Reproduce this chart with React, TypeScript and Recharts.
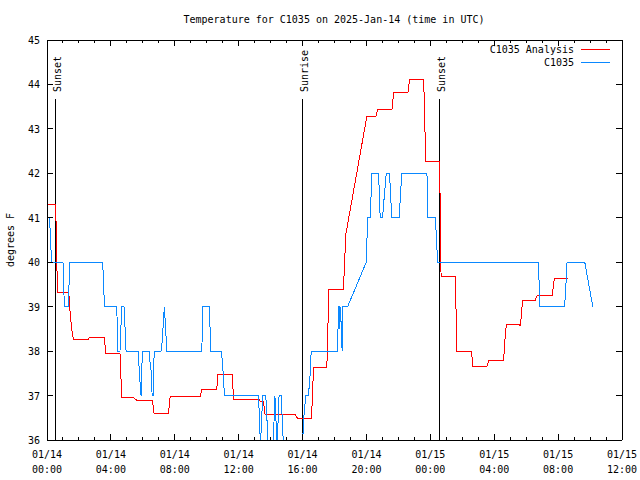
import React from "react";
import { LineChart, Line, XAxis, YAxis, ReferenceLine, Legend } from "recharts";

const FONT = "'DejaVu Sans Mono', monospace";

// hours since 2025-01-14 00:00 UTC
const analysisHours = [
  0, 0.52, 0.58, 0.65, 1.36, 1.46, 1.57, 1.65, 2.61, 2.64, 3.59, 3.68, 4.57, 4.68, 5.41, 5.6,
  6.6, 6.7, 7.6, 7.71, 9.59, 9.69, 10.63, 10.7, 11.61, 11.67, 13.3, 13.35, 13.55, 13.65, 15.54,
  15.68, 16.56, 16.69, 17.52, 17.65, 18.56, 18.63, 18.72, 20.03, 20.6, 20.7, 21.6, 21.7, 22.6,
  22.7, 23.58, 23.62, 23.68, 23.73, 24.56, 24.6, 24.64, 24.69, 25.56, 25.67, 26.57, 26.67, 27.55,
  27.65, 28.59, 28.65, 28.76, 29.53, 29.64, 29.78, 30.58, 30.68, 31.62, 31.77, 32.6
];
const analysisTemps = [
  41.31, 41.31, 40.8, 39.33, 39.33, 38.81, 38.44, 38.26, 38.26, 38.3, 38.3, 37.95, 37.95, 36.96,
  36.96, 36.9, 36.9, 36.6, 36.6, 36.97, 36.97, 37.14, 37.14, 37.48, 37.48, 36.92, 36.92, 36.87,
  36.87, 36.58, 36.58, 36.49, 36.49, 37.63, 37.63, 39.39, 39.39, 40.01, 40.65, 43.29, 43.29,
  43.44, 43.44, 43.82, 43.82, 44.11, 44.11, 43.65, 42.73, 42.26, 42.26, 41.85, 39.9, 39.67, 39.67,
  37.99, 37.99, 37.66, 37.66, 37.78, 37.78, 38.17, 38.6, 38.6, 38.57, 39.15, 39.15, 39.25, 39.25,
  39.64, 39.64
];

const stationHours = [
  0, 0.14, 0.19, 0.25, 0.31, 1.0, 1.05, 1.08, 1.33, 1.38, 1.41, 3.46, 3.53, 3.57, 3.59, 4.37, 4.4,
  4.43, 4.57, 4.68, 4.82, 4.89, 4.95, 5.72, 5.78, 5.89, 5.97, 6.39, 6.45, 6.54, 6.58, 6.64, 6.69,
  6.72, 7.14, 7.21, 7.27, 7.31, 7.35, 7.42, 7.5, 9.69, 9.73, 9.76, 10.17, 10.21, 10.26, 10.9,
  10.96, 11.03, 11.11, 13.24, 13.3, 13.36, 13.45, 13.49, 13.7, 13.78, 13.85, 14.17, 14.22, 14.27,
  14.33, 14.4, 14.48, 14.53, 14.68, 14.72, 14.8, 16.0, 16.07, 16.13, 16.2, 16.37, 16.48, 16.54,
  18.19, 18.25, 18.3, 18.33, 18.38, 18.44, 18.48, 18.53, 18.82, 19.99, 20.03, 20.09, 20.24, 20.29,
  20.34, 20.76, 20.81, 20.86, 21.01, 21.12, 21.24, 21.45, 21.51, 21.6, 22.07, 22.12, 22.22, 23.79,
  23.81, 23.83, 24.31, 24.35, 24.42, 24.45, 30.78, 30.81, 30.85, 32.41, 32.49, 32.56, 33.67,
  33.92, 34.17
];
const stationTemps = [
  41.01, 41.01, 40.76, 40.27, 40.0, 40.0, 39.5, 39.0, 39.0, 39.5, 40.0, 40.0, 39.75, 39.25, 39.0,
  39.0, 38.5, 38.0, 38.0, 39.0, 39.0, 38.5, 38.0, 38.0, 37.5, 37.0, 38.0, 38.0, 37.75, 37.5, 37.0,
  37.0, 37.75, 38.0, 38.0, 38.2, 38.55, 38.8, 39.0, 38.55, 38.0, 38.0, 38.5, 39.0, 39.0, 38.5,
  38.0, 38.0, 37.83, 37.5, 37.0, 37.0, 36.5, 35.9, 36.5, 37.0, 37.0, 36.4, 35.9, 35.9, 36.5, 37.0,
  36.5, 35.9, 36.5, 37.0, 37.0, 36.5, 35.9, 35.9, 36.5, 36.7, 37.0, 37.0, 37.5, 38.0, 38.0, 39.0,
  39.0, 38.5, 39.0, 38.3, 38.0, 39.0, 39.0, 40.0, 40.5, 41.0, 41.0, 41.5, 42.0, 42.0, 41.5, 41.0,
  41.0, 41.5, 42.0, 42.0, 41.5, 41.0, 41.0, 41.5, 42.0, 42.0, 41.5, 41.0, 41.0, 40.76, 40.27,
  40.0, 40.0, 39.5, 39.0, 39.0, 39.5, 40.0, 40.0, 39.5, 39.0
];

const hourTicks = [
  0, 1, 2, 3, 4, 5, 6, 7, 8, 9, 10, 11, 12, 13, 14, 15, 16, 17, 18, 19, 20, 21, 22, 23, 24, 25,
  26, 27, 28, 29, 30, 31, 32, 33, 34, 35, 36
];
const majorHours = [0, 4, 8, 12, 16, 20, 24, 28, 32, 36];
const majorDates = ["01/14", "01/14", "01/14", "01/14", "01/14", "01/14", "01/15", "01/15", "01/15", "01/15"];
const majorTimes = ["00:00", "04:00", "08:00", "12:00", "16:00", "20:00", "00:00", "04:00", "08:00", "12:00"];
const tempTicks = [36, 37, 38, 39, 40, 41, 42, 43, 44, 45];

const seriesNames = ["C1035 Analysis", "C1035"];

const eventNames = ["Sunset", "Sunrise", "Sunset"];
const eventHours = [0.56, 15.99, 24.58];
const eventTop = 43.67;

const toPoints = (hs: number[], vs: number[]) => hs.map((h, i) => ({ h, v: vs[i] }));
const analysisData = toPoints(analysisHours, analysisTemps);
const stationData = toPoints(stationHours, stationTemps);

const txt = { fontFamily: FONT, fontSize: 10, fill: "#000" };

function BottomTick({ x, y, payload }: any) {
  const i = majorHours.indexOf(payload.value);
  return (
    <g>
      <line x1={x} x2={x} y1={y} y2={y - (i >= 0 ? 6 : 3)} stroke="#000" shapeRendering="crispEdges" />
      {i >= 0 && (
        <text x={x} y={y + 18} textAnchor="middle" {...txt}>
          {majorDates[i]}
        </text>
      )}
      {i >= 0 && (
        <text x={x} y={y + 33} textAnchor="middle" {...txt}>
          {majorTimes[i]}
        </text>
      )}
    </g>
  );
}

function TopTick({ x, y, payload }: any) {
  const major = majorHours.includes(payload.value);
  return <line x1={x} x2={x} y1={y} y2={y + (major ? 6 : 3)} stroke="#000" shapeRendering="crispEdges" />;
}

function LeftTick({ x, y, payload }: any) {
  return (
    <g>
      <line x1={x} x2={x + 6} y1={y} y2={y} stroke="#000" shapeRendering="crispEdges" />
      <text x={x - 7} y={y + 4} textAnchor="end" {...txt}>
        {payload.value}
      </text>
    </g>
  );
}

function RightTick({ x, y }: any) {
  return <line x1={x} x2={x - 6} y1={y} y2={y} stroke="#000" shapeRendering="crispEdges" />;
}

function LegendBox({ payload }: any) {
  const items = [...(payload ?? [])].sort(
    (a: any, b: any) => seriesNames.indexOf(a.value) - seriesNames.indexOf(b.value)
  );
  return (
    <div style={{ fontFamily: FONT, fontSize: 10 }}>
      {items.map((item: any) => (
        <div
          key={item.value}
          style={{ display: "flex", justifyContent: "flex-end", alignItems: "center", height: 13, lineHeight: "13px" }}
        >
          <span>{item.value}</span>
          <svg width={36} height={13}>
            <line x1={7} x2={36} y1={6.5} y2={6.5} stroke={item.color} shapeRendering="crispEdges" />
          </svg>
        </div>
      ))}
    </div>
  );
}

const eventLabel = (name: string) => (p: any) => {
  const vb = p.viewBox;
  const x = vb.x + 5.5;
  const y = vb.y - 7;
  return (
    <text x={x} y={y} transform={`rotate(-90 ${x} ${y})`} textAnchor="start" {...txt}>
      {name}
    </text>
  );
};

export default function App() {
  const axisLine = { stroke: "#000", shapeRendering: "crispEdges" };
  return (
    <div style={{ position: "absolute", left: 0, top: 0, background: "#fff" }}>
      <LineChart width={640} height={480} margin={{ top: 30, right: 8, bottom: 0, left: 17 }}>
        <XAxis
          xAxisId="bottom"
          dataKey="h"
          type="number"
          domain={[0, 36]}
          ticks={hourTicks}
          interval={0}
          height={40}
          tickSize={0}
          tickMargin={0}
          tickLine={false}
          axisLine={axisLine}
          tick={BottomTick}
          allowDataOverflow
        />
        <XAxis
          xAxisId="top"
          orientation="top"
          dataKey="h"
          type="number"
          domain={[0, 36]}
          ticks={hourTicks}
          interval={0}
          height={10}
          tickSize={0}
          tickMargin={0}
          tickLine={false}
          axisLine={axisLine}
          tick={TopTick}
          allowDataOverflow
        />
        <YAxis
          yAxisId="left"
          type="number"
          domain={[36, 45]}
          ticks={tempTicks}
          interval={0}
          width={30}
          tickSize={0}
          tickMargin={0}
          tickLine={false}
          axisLine={axisLine}
          tick={LeftTick}
          allowDataOverflow
        />
        <YAxis
          yAxisId="right"
          orientation="right"
          type="number"
          domain={[36, 45]}
          ticks={tempTicks}
          interval={0}
          width={10}
          tickSize={0}
          tickMargin={0}
          tickLine={false}
          axisLine={axisLine}
          tick={RightTick}
          allowDataOverflow
        />
        {eventHours.map((h, i) => (
          <ReferenceLine
            key={i}
            xAxisId="bottom"
            yAxisId="left"
            segment={[
              { x: h, y: 36 },
              { x: h, y: eventTop }
            ]}
            stroke="#000"
            strokeWidth={1}
            shapeRendering="crispEdges"
            label={eventLabel(eventNames[i])}
          />
        ))}
        <Line
          xAxisId="bottom"
          yAxisId="left"
          data={analysisData}
          dataKey="v"
          name={seriesNames[0]}
          type="linear"
          stroke="#ff0000"
          strokeWidth={1}
          dot={false}
          activeDot={false}
          shapeRendering="crispEdges"
          isAnimationActive={false}
        />
        <Line
          xAxisId="bottom"
          yAxisId="left"
          data={stationData}
          dataKey="v"
          name={seriesNames[1]}
          type="linear"
          stroke="#0a88ff"
          strokeWidth={1}
          dot={false}
          activeDot={false}
          shapeRendering="crispEdges"
          isAnimationActive={false}
        />
        <Legend
          layout="vertical"
          align="center"
          verticalAlign="middle"
          content={LegendBox}
          wrapperStyle={{ left: 374, top: 43, width: 236, height: 26 }}
        />
        <text x={334} y={23} textAnchor="middle" {...txt}>
          Temperature for C1035 on 2025-Jan-14 (time in UTC)
        </text>
        <text x={14} y={240} transform="rotate(-90 14 240)" textAnchor="middle" {...txt}>
          degrees F
        </text>
      </LineChart>
    </div>
  );
}
